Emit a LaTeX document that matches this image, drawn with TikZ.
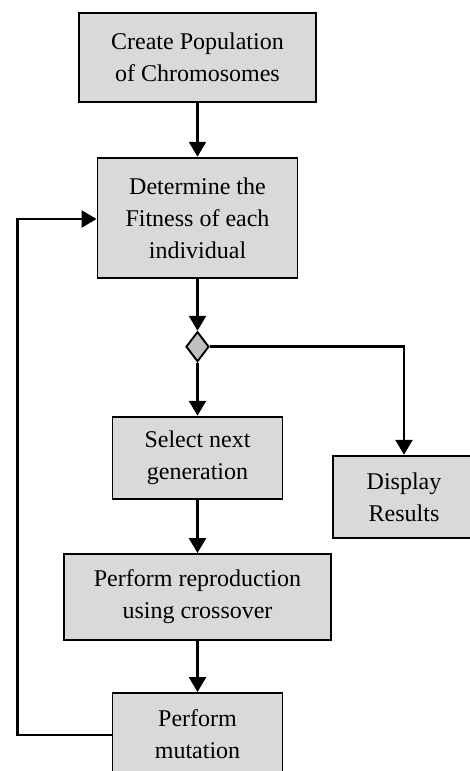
\documentclass[tikz,border=0pt]{standalone}
\usepackage{fontspec}
\setmainfont{Liberation Serif}
\usetikzlibrary{shapes.geometric,arrows.meta}
\definecolor{boxfill}{HTML}{D9D9D9}
\definecolor{diafill}{HTML}{C0C0C0}
\tikzset{
  stepbox/.style={draw=black, line width=1.9pt, fill=boxfill, rectangle, align=center,
    inner sep=0pt, font=\fontsize{24}{32}\selectfont},
  decision/.style={draw=black, line width=1.9pt, fill=diafill, diamond, inner sep=0pt,
    minimum width=23pt, minimum height=30pt, aspect=0.77},
  flow/.style={line width=2.6pt, -{Triangle[length=15pt,width=17pt]}}
}
\begin{document}
\begin{tikzpicture}[x=1pt,y=-1pt]
\useasboundingbox (0,0) rectangle (470,771);
\clip (0,0) rectangle (470,771);
\node[stepbox, minimum width=236.7pt, minimum height=88.4pt] (create) at (197.5,57.5) {Create Population\\of Chromosomes};
\node[stepbox, minimum width=200pt, minimum height=120.6pt] (fitness) at (197.5,218) {Determine the\\Fitness of each\\individual};
\node[decision] (dec) at (197.5,346.7) {};
\node[stepbox, minimum width=170pt, minimum height=82.6pt] (select) at (197.5,458) {Select next\\generation};
\node[stepbox, minimum width=141.4pt, minimum height=82.6pt] (display) at (404,497) {Display\\Results};
\node[stepbox, minimum width=267.4pt, minimum height=86pt] (repro) at (197.5,597) {Perform reproduction\\using crossover};
\node[stepbox, minimum width=170pt, minimum height=83pt] (mut) at (197.5,734.5) {Perform\\mutation};
\coordinate (loopbl) at (17.3,735);
\coordinate (looptl) at (17.3,219);
\coordinate (decr) at (404,346.7);
\draw[flow] (create.south) -- (fitness.north);
\draw[flow] (fitness.south) -- (dec.north);
\draw[flow] (dec.south) -- (select.north);
\draw[flow] (dec.east) -- (decr) -- (display.north);
\draw[flow] (select.south) -- (repro.north);
\draw[flow] (repro.south) -- (mut.north);
\draw[flow] (mut.west |- loopbl) -- (loopbl) -- (looptl) -- (fitness.west |- looptl);
\end{tikzpicture}
\end{document}
